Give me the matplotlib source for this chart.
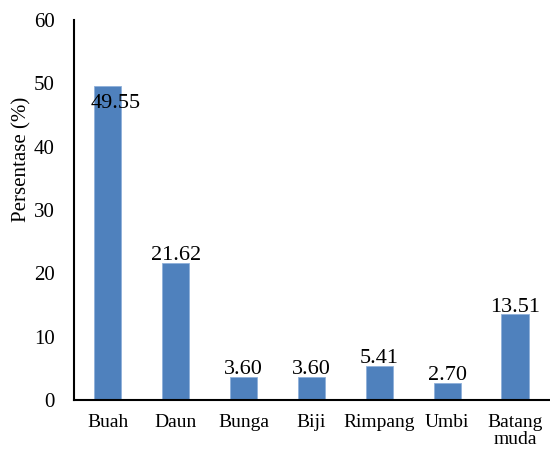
import matplotlib
matplotlib.use("Agg")
import matplotlib.pyplot as plt

categories = ["Buah", "Daun", "Bunga", "Biji", "Rimpang", "Umbi", "Batang\nmuda"]
values = [49.55, 21.62, 3.60, 3.60, 5.41, 2.70, 13.51]
labels = ["49.55", "21.62", "3.60", "3.60", "5.41", "2.70", "13.51"]

plt.rcParams['font.family'] = ['Liberation Serif', 'DejaVu Serif']

fig = plt.figure(figsize=(5.5, 4.51), dpi=100)
ax = fig.add_axes([74/550, 1 - 400/451, (549-74)/550, 380/451])

x = list(range(len(categories)))
bars = ax.bar(x, values, width=0.4, color="#4F81BD", edgecolor="#8FB0DA", linewidth=0.6)

for i, (v, lab) in enumerate(zip(values, labels)):
    if i == 0:
        ax.text(i - 0.25, v - 3.45, lab, ha='left', va='baseline', fontsize=16)
    else:
        ax.text(i, v + 0.45, lab, ha='center', va='baseline', fontsize=16)

ax.set_xlim(-0.5, len(categories) - 0.5)
ax.set_ylim(0, 60)
ax.set_yticks(range(0, 61, 10))
ax.set_xticks(x)
ax.set_xticklabels(categories, fontsize=14, linespacing=1.0)
ax.tick_params(axis='y', labelsize=15, length=0, pad=14)
ax.tick_params(axis='x', length=0, pad=10)
ax.set_ylabel("Persentase (%)", fontsize=15)
ax.yaxis.set_label_coords(-0.09, 0.632)

ax.spines['top'].set_visible(False)
ax.spines['right'].set_visible(False)
ax.spines['left'].set_linewidth(1.5)
ax.spines['bottom'].set_linewidth(1.5)

fig.savefig("out.png", dpi=100)
